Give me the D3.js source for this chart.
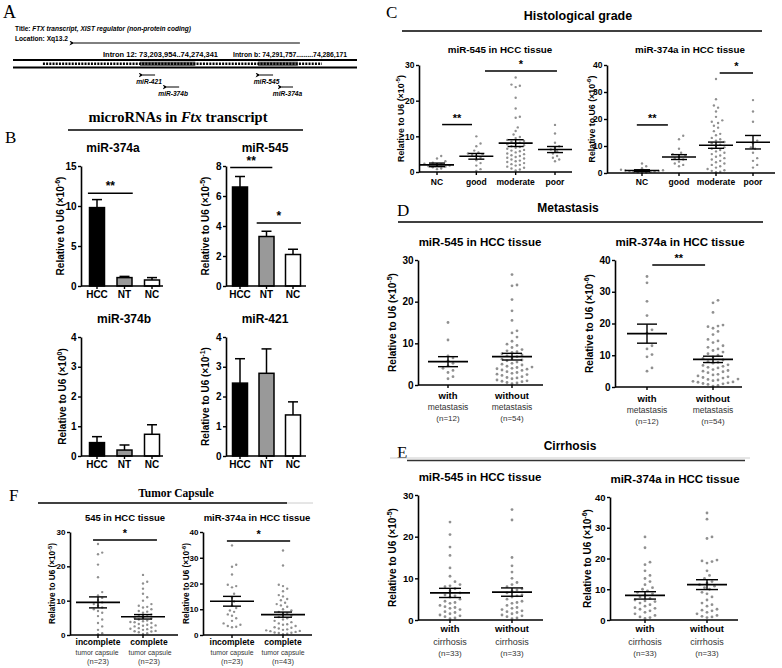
<!DOCTYPE html>
<html>
<head>
<meta charset="utf-8">
<script src="https://cdn.jsdelivr.net/npm/d3@7"></script>
<style>
  body { margin: 0; background: #fff; }
  svg { display: block; }
</style>
</head>
<body>
<script>
// ---------- data ----------
// panel B: bar charts (mean, error)
const barCats = ['HCC', 'NT', 'NC'];
const mir374aMean = [9.8, 1.05, 0.75];
const mir374aErr = [1.0, 0.15, 0.3];
const mir545Mean = [6.6, 3.3, 2.1];
const mir545Err = [0.7, 0.35, 0.35];
const mir374bMean = [0.45, 0.2, 0.73];
const mir374bErr = [0.2, 0.17, 0.32];
const mir421Mean = [2.45, 2.78, 1.38];
const mir421Err = [0.82, 0.82, 0.44];

// panel C: histological grade
const gradeCats = ['NC', 'good', 'moderate', 'poor'];
const c545NC = [4.5, 3.8, 3.0, 2.6, 2.3, 2.0, 1.8, 1.6, 1.3, 1.0, 0.8, 2.2, 1.5];
const c545Good = [10.0, 8.0, 7.2, 5.5, 5.2, 4.8, 4.5, 4.0, 3.3, 2.5, 1.8, 0.8, 0.3, 5.0, 6.0];
const c545Moderate = [26.5, 24.5, 24.2, 23.8, 20.8, 17.8, 15.5, 15.2, 12.5, 11.5, 10.5, 9.8, 9.5, 9.0, 8.7, 8.5, 8.2, 8.0,
  7.8, 7.5, 7.2, 7.0, 6.8, 6.5, 6.2, 6.0, 5.8, 5.5, 5.2, 5.0, 4.7, 4.5, 4.2, 4.0, 3.8, 3.5, 3.2, 3.0, 2.8, 2.5, 2.2, 2.0,
  1.8, 1.5, 1.2, 1.0, 0.7, 0.4];
const c545Poor = [13.2, 10.8, 8.2, 7.2, 6.8, 6.3, 5.8, 5.2, 4.5, 4.0, 3.5, 3.0];
const c545Mean = [2.0, 4.4, 8.1, 6.3];
const c545Sem = [0.5, 0.8, 0.95, 0.85];

const c374NC = [3.5, 2.5, 1.8, 1.2, 1.0, 0.8, 0.6, 0.5, 0.4, 0.3, 0.2, 0.1, 0.9, 0.7];
const c374Good = [13.8, 12.5, 9.0, 7.5, 7.0, 6.5, 6.0, 5.5, 5.0, 4.2, 3.5, 3.0, 2.5];
const c374Moderate = [34.8, 27.3, 25.0, 24.2, 22.8, 20.8, 19.5, 19.0, 18.5, 17.5, 16.8, 15.5, 14.5, 14.0, 13.0, 12.5,
  12.0, 11.5, 11.0, 10.5, 10.0, 9.5, 9.0, 8.5, 8.0, 7.5, 7.0, 6.5, 6.0, 5.5, 5.0, 4.5, 4.0, 3.5, 3.0, 2.5, 2.0, 1.5,
  1.0, 0.8, 0.5, 0.3];
const c374Poor = [27.0, 22.8, 19.0, 12.0, 11.0, 9.5, 9.0, 7.5, 5.5, 4.5, 3.0, 2.0];
const c374Mean = [0.9, 5.9, 10.3, 11.4];
const c374Sem = [0.3, 0.9, 1.15, 2.5];

// panel D: metastasis
const metaCats = ['with', 'without'];
const d545With = [15.0, 10.8, 7.0, 6.5, 5.8, 5.2, 4.6, 4.0, 3.5, 3.0, 2.0, 1.5];
const d545Without = [26.5, 24.0, 23.8, 20.5, 17.8, 15.5, 13.0, 12.5, 11.5, 10.5, 9.8, 9.5, 9.0, 8.5, 8.2, 8.0, 7.8,
  7.5, 7.2, 7.0, 6.8, 6.5, 6.2, 6.0, 5.8, 5.5, 5.2, 5.0, 4.8, 4.5, 4.3, 4.0, 3.8, 3.5, 3.2, 3.0, 2.8, 2.5, 2.3, 2.0,
  1.8, 1.5, 1.2, 1.0, 0.8, 0.5, 4.2, 3.6, 2.6, 1.7, 0.9, 0.6, 0.3, 3.9];
const d545Mean = [5.6, 6.8];
const d545Sem = [1.2, 0.8];
const d374With = [34.8, 32.8, 27.0, 22.5, 18.0, 17.0, 13.0, 12.0, 10.2, 9.5, 6.0, 5.0];
const d374Without = [27.3, 26.5, 23.5, 19.5, 19.2, 19.0, 18.5, 17.5, 16.5, 15.0, 14.5, 14.0, 13.0, 12.5, 12.0, 11.5,
  11.0, 10.5, 10.0, 9.5, 9.0, 8.5, 8.0, 7.8, 7.5, 7.0, 6.8, 6.5, 6.0, 5.5, 5.0, 4.8, 4.5, 4.0, 3.8, 3.5, 3.0, 2.8, 2.5,
  2.2, 2.0, 1.8, 1.5, 1.3, 1.0, 0.8, 0.5, 0.3, 6.2, 5.2, 3.2, 2.4, 1.6, 1.1];
const d374Mean = [16.8, 8.7];
const d374Sem = [3.0, 1.0];

// panel E: cirrhosis
const e545With = [23.5, 20.5, 17.5, 15.5, 12.5, 10.5, 9.2, 8.5, 8.2, 8.0, 7.5, 7.0, 6.5, 6.0, 5.8, 5.5, 5.0, 4.5, 4.2,
  4.0, 3.5, 3.0, 2.8, 2.5, 2.0, 1.8, 1.5, 1.2, 1.0, 0.8, 0.5, 0.3, 3.2];
const e545Without = [26.5, 24.0, 15.0, 13.0, 11.5, 10.0, 9.0, 8.5, 8.0, 7.5, 7.2, 7.0, 6.5, 6.0, 5.8, 5.5, 5.0, 4.5,
  4.2, 4.0, 3.5, 3.0, 2.8, 2.5, 2.0, 1.8, 1.5, 1.2, 1.0, 0.8, 0.5, 0.3, 2.2];
const e545Mean = [6.5, 6.7];
const e545Sem = [1.1, 1.0];
const e374With = [27.0, 23.5, 18.8, 18.0, 16.0, 14.5, 13.5, 12.5, 11.5, 10.5, 10.0, 9.5, 9.0, 8.5, 8.0, 7.5, 7.0, 6.5,
  6.0, 5.5, 5.0, 4.5, 4.0, 3.5, 3.0, 2.5, 2.0, 1.5, 1.0, 0.8, 0.5, 6.2, 3.8];
const e374Without = [34.8, 32.8, 27.0, 26.5, 19.5, 19.2, 19.0, 18.5, 16.0, 14.5, 13.5, 12.5, 12.0, 11.5, 11.0, 10.5,
  10.0, 9.0, 8.5, 7.5, 6.5, 5.5, 5.0, 4.5, 3.5, 3.2, 3.0, 2.5, 2.0, 1.5, 1.2, 1.0, 0.8];
const e374Mean = [8.0, 11.5];
const e374Sem = [1.2, 1.6];

// panel F: tumor capsule
const capCats = ['incomplete', 'complete'];
const f545Incomplete = [26.5, 24.0, 23.5, 20.5, 16.8, 12.5, 11.5, 10.8, 10.2, 9.5, 9.0, 8.5, 8.0, 7.5, 7.0, 6.5, 5.5,
  4.5, 3.5, 2.5, 1.5, 0.5, 0.2];
const f545Complete = [17.5, 15.5, 15.0, 13.5, 12.0, 11.0, 10.0, 9.0, 8.5, 8.2, 8.0, 7.5, 7.0, 6.8, 6.5, 6.0, 5.8, 5.5,
  5.2, 5.0, 4.8, 4.5, 4.2, 4.0, 3.8, 3.5, 3.2, 3.0, 2.8, 2.5, 2.2, 2.0, 1.8, 1.5, 1.2, 1.0, 0.8, 0.5, 0.3, 3.7, 2.7,
  1.7, 1.1];
const f545Mean = [9.5, 5.3];
const f545Sem = [1.6, 0.65];
const f374Incomplete = [34.8, 27.3, 26.5, 23.5, 19.5, 19.0, 18.5, 16.0, 14.5, 13.0, 11.5, 10.5, 9.5, 9.0, 8.0, 7.5,
  6.5, 5.5, 4.5, 4.0, 3.5, 3.2, 3.0];
const f374Complete = [32.8, 27.0, 19.5, 19.0, 18.0, 17.0, 15.5, 15.0, 14.0, 13.5, 12.5, 12.0, 11.5, 11.0, 10.0, 9.5,
  9.0, 8.5, 8.0, 7.5, 7.0, 6.5, 6.0, 5.5, 5.0, 4.5, 4.0, 3.5, 3.0, 2.5, 2.2, 2.0, 1.8, 1.5, 1.2, 1.0, 0.8, 0.5, 0.3,
  4.2, 2.8, 1.6, 0.9];
const f374Mean = [13.1, 7.9];
const f374Sem = [1.9, 1.0];

// panel A: miRNA positions along the transcript (fraction of track)
const mirNames = ['miR-421', 'miR-374b', 'miR-545', 'miR-374a'];
const mirStart = [0.378, 0.448, 0.718, 0.782];
const mirEnd = [0.413, 0.483, 0.756, 0.814];
const mirRow = [0, 1, 0, 1];

// ---------- setup ----------
const SANS = '"Liberation Sans", Arial, sans-serif';
const SERIF = '"Liberation Serif", "Times New Roman", serif';
const DOT = '#909090';

const svg = d3.select('body').append('svg')
    .attr('width', 782)
    .attr('height', 668)
    .style('font-family', SANS);

svg.append('rect').attr('width', 782).attr('height', 668).attr('fill', '#fff');

svg.append('defs').append('marker')
    .attr('id', 'arrowL')
    .attr('viewBox', '0 0 10 10')
    .attr('refX', 1).attr('refY', 5)
    .attr('markerWidth', 5).attr('markerHeight', 5)
    .attr('orient', 'auto-start-reverse')
    .append('path')
    .attr('d', 'M0,5 L10,0 L7,5 L10,10 Z')
    .attr('fill', '#000');

function text(g, x, y, s, o = {}) {
    const t = g.append('text')
        .attr('x', x).attr('y', y)
        .attr('text-anchor', o.anchor || 'middle')
        .attr('font-size', o.size || 10)
        .attr('font-weight', o.weight || 'normal')
        .attr('font-style', o.style || 'normal')
        .attr('font-family', o.family || SANS)
        .attr('fill', o.fill || '#000')
        .text(s);
    if (o.len) t.attr('textLength', o.len).attr('lengthAdjust', 'spacingAndGlyphs');
    return t;
}

function hline(g, x1, x2, y, w = 1.2, c = '#000') {
    g.append('line').attr('x1', x1).attr('x2', x2).attr('y1', y).attr('y2', y)
        .attr('stroke', c).attr('stroke-width', w);
}

function yLabel(g, x, yc, exp, size) {
    const t = g.append('text')
        .attr('transform', `translate(${x},${yc}) rotate(-90)`)
        .attr('text-anchor', 'middle')
        .attr('font-size', size)
        .attr('font-weight', 'bold');
    t.append('tspan').text('Relative to U6 (\u00d710');
    t.append('tspan').attr('dy', -size * 0.4).attr('font-size', size * 0.7).text(exp);
    t.append('tspan').attr('dy', size * 0.4).text(')');
}

function drawYAxis(g, y, ax, ticks, size) {
    const a = g.append('g')
        .attr('transform', `translate(${ax},0)`)
        .call(d3.axisLeft(y).tickValues(ticks).tickFormat(d3.format('d'))
            .tickSize(3).tickSizeOuter(0).tickPadding(1.5));
    a.select('.domain').attr('stroke-width', 1.6);
    a.selectAll('.tick line').attr('stroke-width', 1.4);
    a.selectAll('.tick text')
        .attr('font-family', SANS)
        .attr('font-weight', 'bold')
        .attr('font-size', size);
}

function sigLines(g, x, y, sig, size) {
    (sig || []).forEach(s => {
        hline(g, x(s.a), x(s.b), y(s.v), 1.5);
        text(g, (x(s.a) + x(s.b)) / 2, y(s.v) - 3, s.t, { size: size, weight: 'bold' });
    });
}

// simple beeswarm layout: place each dot nearest to the center without overlap
function swarm(vals, y, s) {
    const placed = [];
    vals.slice().sort((a, b) => a - b).forEach(v => {
        const py = y(v);
        for (let k = 0; k < 200; k++) {
            const off = (k % 2 ? 1 : -1) * Math.ceil(k / 2) * s / 2;
            const hit = placed.some(p => (p.dx - off) ** 2 + (p.y - py) ** 2 < s * s * 0.95);
            if (!hit) { placed.push({ dx: off, y: py }); break; }
        }
    });
    return placed;
}

// ---------- bar chart (panel B) ----------
function barChart(cfg, means, errs) {
    const g = svg.append('g');
    const y = d3.scaleLinear().domain([0, cfg.max]).range([cfg.y0, cfg.yTop]);
    const x = d3.scaleLinear().domain([0, barCats.length - 1]).range(cfg.cx);
    const fills = ['#000', '#999', '#fff'];
    const bw = 15;

    // error bars (upper only)
    means.forEach((m, i) => {
        g.append('line').attr('x1', x(i)).attr('x2', x(i))
            .attr('y1', y(m)).attr('y2', y(m + errs[i]))
            .attr('stroke', '#000').attr('stroke-width', 1.5);
        hline(g, x(i) - 5, x(i) + 5, y(m + errs[i]), 1.5);
    });

    g.selectAll('rect.bar')
        .data(means)
        .join('rect')
        .attr('class', 'bar')
        .attr('x', (d, i) => x(i) - bw / 2)
        .attr('y', d => y(d))
        .attr('width', bw)
        .attr('height', d => y(0) - y(d))
        .attr('fill', (d, i) => fills[i])
        .attr('stroke', '#000')
        .attr('stroke-width', 1.5);

    drawYAxis(g, y, cfg.ax, cfg.ticks, 10);
    hline(g, cfg.ax, cfg.xEnd, cfg.y0, 1.6);
    barCats.forEach((c, i) => {
        g.append('line').attr('x1', x(i)).attr('x2', x(i)).attr('y1', cfg.y0).attr('y2', cfg.y0 + 3)
            .attr('stroke', '#000').attr('stroke-width', 1.4);
        text(g, x(i), cfg.y0 + 12, c, { size: 10, weight: 'bold' });
    });

    text(g, cfg.titleX, cfg.titleY, cfg.title, { size: 12, weight: 'bold' });
    yLabel(g, cfg.ylabX, (cfg.y0 + cfg.yTop) / 2, cfg.exp, 10);
    sigLines(g, x, y, cfg.sig, 12);
}

// ---------- dot plot (panels C-F) ----------
function dotPlot(cfg, cats, groups, means, sems) {
    const g = svg.append('g');
    const y = d3.scaleLinear().domain([0, cfg.max]).range([cfg.y0, cfg.yTop]);
    const x = d3.scaleLinear().domain([0, cats.length - 1]).range(cfg.cx);

    groups.forEach((vals, i) => {
        g.selectAll(null)
            .data(swarm(vals, y, cfg.gap))
            .join('circle')
            .attr('cx', d => x(i) + d.dx)
            .attr('cy', d => d.y)
            .attr('r', cfg.r)
            .attr('fill', DOT);
    });

    means.forEach((m, i) => {
        hline(g, x(i) - cfg.meanW / 2, x(i) + cfg.meanW / 2, y(m), 1.6);
        hline(g, x(i) - cfg.capW / 2, x(i) + cfg.capW / 2, y(m + sems[i]), 1.4);
        hline(g, x(i) - cfg.capW / 2, x(i) + cfg.capW / 2, y(m - sems[i]), 1.4);
        g.append('line').attr('x1', x(i)).attr('x2', x(i))
            .attr('y1', y(m - sems[i])).attr('y2', y(m + sems[i]))
            .attr('stroke', '#000').attr('stroke-width', 1.4);
    });

    drawYAxis(g, y, cfg.ax, d3.range(0, cfg.max + 1, 10), cfg.tick);
    hline(g, cfg.ax, cfg.xEnd, cfg.y0, 1.6);
    cats.forEach((c, i) => {
        g.append('line').attr('x1', x(i)).attr('x2', x(i)).attr('y1', cfg.y0).attr('y2', cfg.y0 + 3)
            .attr('stroke', '#000').attr('stroke-width', 1.4);
    });
    cfg.rows.forEach(r => {
        r.t.forEach((s, i) => text(g, x(i) + (r.shift ? r.shift[i] : 0), r.y, s,
            { size: r.size, weight: r.weight || 'normal', fill: r.fill || '#000', len: r.len }));
    });

    text(g, cfg.titleX, cfg.titleY, cfg.title, { size: cfg.titleSize, weight: 'bold' });
    yLabel(g, cfg.ylabX, (cfg.y0 + cfg.yTop) / 2, cfg.exp, cfg.ylabSize);
    sigLines(g, x, y, cfg.sig, cfg.starSize || 11);
}

// ---------- panel A ----------
(function panelA() {
    const g = svg.append('g');
    const trackX = d3.scaleLinear().domain([0, 1]).range([13, 357]);

    text(g, 3, 18, 'A', { anchor: 'start', size: 18, family: SERIF });

    const t1 = g.append('text').attr('x', 15).attr('y', 31).attr('font-size', 6.6).attr('font-weight', 'bold')
        .attr('textLength', 176).attr('lengthAdjust', 'spacingAndGlyphs');
    t1.append('tspan').text('Title: ');
    t1.append('tspan').attr('font-style', 'italic').text('FTX transcript, XIST regulator (non-protein coding)');
    text(g, 15, 40.5, 'Location: Xq13.2', { anchor: 'start', size: 6.6, weight: 'bold', len: 53 });

    g.append('line')
        .attr('x1', trackX(0.834)).attr('x2', trackX(0.177)).attr('y1', 43).attr('y2', 43)
        .attr('stroke', '#000').attr('stroke-width', 1)
        .attr('marker-end', 'url(#arrowL)');

    text(g, 103, 57, 'Intron 12: 73,203,954..74,274,341', { anchor: 'start', size: 7, weight: 'bold', len: 115 });
    text(g, 233, 57, 'Intron b: 74,291,757.........74,286,171', { anchor: 'start', size: 7, weight: 'bold', len: 114 });

    // transcript track
    const darkSpans = [[0.369, 0.53], [0.712, 0.828]];
    darkSpans.forEach(s => {
        g.append('rect').attr('x', trackX(s[0])).attr('y', 61.5)
            .attr('width', trackX(s[1]) - trackX(s[0])).attr('height', 4.5).attr('fill', '#6a6a6a');
    });
    g.append('line')
        .attr('x1', trackX(0.087)).attr('x2', trackX(0.898)).attr('y1', 63.8).attr('y2', 63.8)
        .attr('stroke', '#000').attr('stroke-width', 2.4)
        .attr('stroke-dasharray', '2,1.2');
    hline(g, trackX(0), trackX(1), 60, 1.8);
    hline(g, trackX(0), trackX(1), 67.5, 1.8);

    mirNames.forEach((name, i) => {
        const ya = 75 + mirRow[i] * 12;
        g.append('line')
            .attr('x1', trackX(mirEnd[i])).attr('x2', trackX(mirStart[i])).attr('y1', ya).attr('y2', ya)
            .attr('stroke', '#000').attr('stroke-width', 1)
            .attr('marker-end', 'url(#arrowL)');
        text(g, (trackX(mirStart[i]) + trackX(mirEnd[i])) / 2, ya + 9, name,
            { size: 6.6, weight: 'bold', style: 'italic' });
    });
})();

// ---------- panel B ----------
(function panelB() {
    const g = svg.append('g');
    text(g, 5, 143, 'B', { anchor: 'start', size: 17, family: SERIF });
    const h = g.append('text').attr('x', 178).attr('y', 122).attr('text-anchor', 'middle')
        .attr('font-family', SERIF).attr('font-weight', 'bold').attr('font-size', 14.5);
    h.append('tspan').text('microRNAs in ');
    h.append('tspan').attr('font-style', 'italic').text('Ftx');
    h.append('tspan').text(' transcript');
    hline(g, 68, 303, 130, 1.3);
})();

barChart({ ax: 81, xEnd: 163, y0: 286, yTop: 166, max: 15, ticks: [0, 5, 10, 15], cx: [97, 152],
    title: 'miR-374a', titleX: 113, titleY: 152, ylabX: 64, exp: '-6',
    sig: [{ a: -0.33, b: 1.3, v: 11.6, t: '**' }] }, mir374aMean, mir374aErr);
barChart({ ax: 226, xEnd: 306, y0: 286, yTop: 166, max: 8, ticks: [0, 2, 4, 6, 8], cx: [240, 293],
    title: 'miR-545', titleX: 265, titleY: 152, ylabX: 209, exp: '-5',
    sig: [{ a: -0.37, b: 1.22, v: 7.9, t: '**' }, { a: 0.63, b: 2.3, v: 4.2, t: '*' }] }, mir545Mean, mir545Err);
barChart({ ax: 81, xEnd: 163, y0: 456, yTop: 337, max: 4, ticks: [0, 1, 2, 3, 4], cx: [97, 152],
    title: 'miR-374b', titleX: 124, titleY: 323, ylabX: 66, exp: '0' }, mir374bMean, mir374bErr);
barChart({ ax: 226, xEnd: 306, y0: 456, yTop: 337, max: 4, ticks: [0, 1, 2, 3, 4], cx: [240, 293],
    title: 'miR-421', titleX: 265, titleY: 323, ylabX: 209, exp: '-1' }, mir421Mean, mir421Err);

// ---------- panel C ----------
(function headC() {
    const g = svg.append('g');
    text(g, 386, 18, 'C', { anchor: 'start', size: 17, family: SERIF });
    text(g, 578, 20, 'Histological grade', { size: 12.5, weight: 'bold' });
    hline(g, 402, 762, 31, 1.3);
})();

dotPlot({ ax: 419, xEnd: 572, y0: 172, yTop: 65, max: 30, cx: [437, 555], r: 1.2, gap: 4.2, meanW: 34, capW: 16,
    title: 'miR-545 in HCC tissue', titleX: 500, titleY: 53, titleSize: 9.8, tick: 8.5,
    ylabX: 404, ylabSize: 8.8, exp: '-5',
    sig: [{ a: 0.13, b: 0.89, v: 13.3, t: '**' }, { a: 1.22, b: 3.05, v: 28.3, t: '*' }],
    rows: [{ t: gradeCats, y: 185, size: 8.5, weight: 'bold' }] },
    gradeCats, [c545NC, c545Good, c545Moderate, c545Poor], c545Mean, c545Sem);

dotPlot({ ax: 607, xEnd: 775, y0: 173, yTop: 65, max: 40, cx: [642, 753], r: 1.2, gap: 4.2, meanW: 34, capW: 16,
    title: 'miR-374a in HCC tissue', titleX: 690, titleY: 53, titleSize: 9.8, tick: 8.5,
    ylabX: 595, ylabSize: 8.8, exp: '-6',
    sig: [{ a: -0.14, b: 0.7, v: 17.8, t: '**' }, { a: 2.1, b: 3.0, v: 37, t: '*' }],
    rows: [{ t: gradeCats, y: 185, size: 8.5, weight: 'bold' }] },
    gradeCats, [c374NC, c374Good, c374Moderate, c374Poor], c374Mean, c374Sem);

// ---------- panel D ----------
(function headD() {
    const g = svg.append('g');
    text(g, 397, 216, 'D', { anchor: 'start', size: 17, family: SERIF });
    text(g, 568, 212, 'Metastasis', { size: 12, weight: 'bold' });
    hline(g, 398, 763, 222, 1.3);
})();

dotPlot({ ax: 418, xEnd: 543, y0: 385, yTop: 260, max: 30, cx: [448, 512], r: 1.4, gap: 5, meanW: 40, capW: 20,
    title: 'miR-545 in HCC tissue', titleX: 480, titleY: 246, titleSize: 11.5, tick: 10,
    ylabX: 396, ylabSize: 10, exp: '-5',
    rows: [{ t: metaCats, y: 399, size: 9.5, weight: 'bold' },
           { t: ['metastasis', 'metastasis'], y: 410, size: 8.5, fill: '#333' },
           { t: ['(n=12)', '(n=54)'], y: 421, size: 8, fill: '#333' }] },
    metaCats, [d545With, d545Without], d545Mean, d545Sem);

dotPlot({ ax: 615, xEnd: 742, y0: 387, yTop: 260, max: 40, cx: [647, 713], r: 1.4, gap: 5, meanW: 40, capW: 20,
    title: 'miR-374a in HCC tissue', titleX: 680, titleY: 246, titleSize: 11.5, tick: 10,
    ylabX: 593, ylabSize: 10, exp: '-6',
    sig: [{ a: 0.08, b: 0.88, v: 38.4, t: '**' }],
    rows: [{ t: metaCats, y: 402, size: 9.5, weight: 'bold' },
           { t: ['metastasis', 'metastasis'], y: 413, size: 8.5, fill: '#333' },
           { t: ['(n=12)', '(n=54)'], y: 424, size: 8, fill: '#333' }] },
    metaCats, [d374With, d374Without], d374Mean, d374Sem);

// ---------- panel E ----------
(function headE() {
    const g = svg.append('g');
    text(g, 397, 458, 'E', { anchor: 'start', size: 17, family: SERIF });
    text(g, 570, 450, 'Cirrhosis', { size: 12, weight: 'bold' });
    hline(g, 390, 750, 458, 1, '#ccc');
    hline(g, 407, 745, 460.5, 1.5, '#333');
})();

dotPlot({ ax: 418, xEnd: 543, y0: 620, yTop: 495, max: 30, cx: [450, 512], r: 1.4, gap: 5, meanW: 40, capW: 22,
    title: 'miR-545 in HCC tissue', titleX: 480, titleY: 481, titleSize: 11.5, tick: 9.5,
    ylabX: 396, ylabSize: 10, exp: '-5',
    rows: [{ t: metaCats, y: 632, size: 9.5, weight: 'bold' },
           { t: ['cirrhosis', 'cirrhosis'], y: 645, size: 9, fill: '#333' },
           { t: ['(n=33)', '(n=33)'], y: 656, size: 8, fill: '#333' }] },
    metaCats, [e545With, e545Without], e545Mean, e545Sem);

dotPlot({ ax: 610, xEnd: 738, y0: 620, yTop: 497, max: 40, cx: [645, 707], r: 1.4, gap: 5, meanW: 40, capW: 22,
    title: 'miR-374a in HCC tissue', titleX: 675, titleY: 483, titleSize: 11.5, tick: 9.5,
    ylabX: 591, ylabSize: 10, exp: '-6',
    rows: [{ t: metaCats, y: 632, size: 9.5, weight: 'bold' },
           { t: ['cirrhosis', 'cirrhosis'], y: 645, size: 9, fill: '#333' },
           { t: ['(n=33)', '(n=33)'], y: 656, size: 8, fill: '#333' }] },
    metaCats, [e374With, e374Without], e374Mean, e374Sem);

// ---------- panel F ----------
(function headF() {
    const g = svg.append('g');
    text(g, 9, 501, 'F', { anchor: 'start', size: 17, family: SERIF });
    text(g, 176, 497, 'Tumor Capsule', { size: 11.5, weight: 'bold', family: SERIF });
    hline(g, 38, 287, 503, 1.3);
    hline(g, 287, 313, 503, 1, '#ccc');
})();

dotPlot({ ax: 70, xEnd: 178, y0: 635, yTop: 532, max: 30, cx: [98, 143], r: 1.2, gap: 4.2, meanW: 44, capW: 18,
    title: '545 in HCC tissue', titleX: 125, titleY: 521, titleSize: 9.5, tick: 8,
    ylabX: 55, ylabSize: 8.2, exp: '-5',
    sig: [{ a: -0.11, b: 1.31, v: 27.7, t: '*' }],
    rows: [{ t: capCats, y: 645, size: 8.5, weight: 'bold', shift: [0, 6] },
           { t: ['tumor capsule', 'tumor capsule'], y: 655, size: 7, fill: '#333', len: 43, shift: [-1, 7] },
           { t: ['(n=23)', '(n=23)'], y: 664, size: 7.5, fill: '#333', shift: [0, 6] }] },
    capCats, [f545Incomplete, f545Complete], f545Mean, f545Sem);

dotPlot({ ax: 203, xEnd: 312, y0: 635, yTop: 532, max: 40, cx: [232, 283], r: 1.2, gap: 4.2, meanW: 44, capW: 18,
    title: 'miR-374a in HCC tissue', titleX: 257, titleY: 521, titleSize: 9.5, tick: 8,
    ylabX: 189, ylabSize: 8.2, exp: '-6',
    sig: [{ a: -0.1, b: 1.14, v: 36.5, t: '*' }],
    rows: [{ t: capCats, y: 645, size: 8.5, weight: 'bold' },
           { t: ['tumor capsule', 'tumor capsule'], y: 655, size: 7, fill: '#333', len: 43 },
           { t: ['(n=23)', '(n=43)'], y: 664, size: 7.5, fill: '#333' }] },
    capCats, [f374Incomplete, f374Complete], f374Mean, f374Sem);
</script>
</body>
</html>
